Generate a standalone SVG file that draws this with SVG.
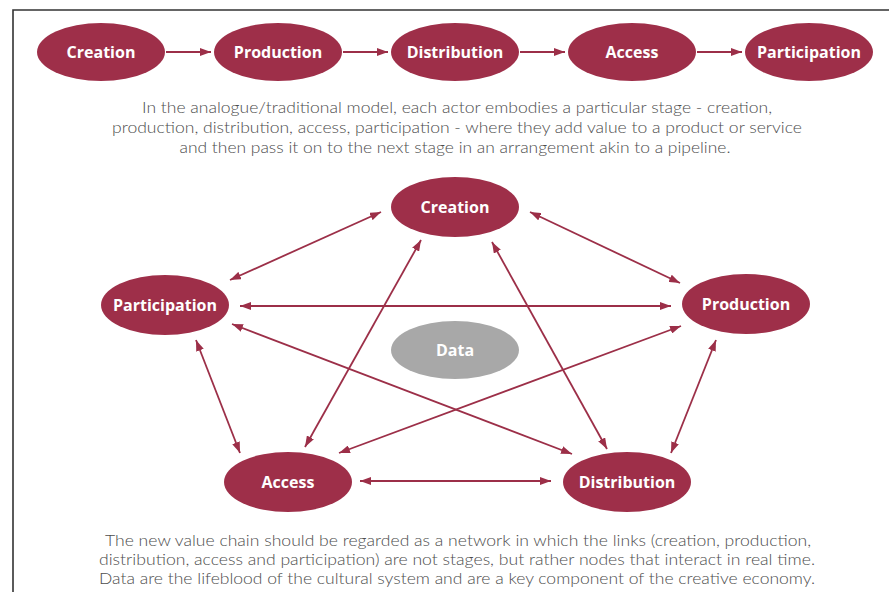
<svg xmlns="http://www.w3.org/2000/svg" width="889" height="592" viewBox="0 0 889 592">
<defs>
<marker id="ah" viewBox="0 0 11 8" refX="11" refY="4" markerWidth="11" markerHeight="8" markerUnits="userSpaceOnUse" orient="auto-start-reverse">
<path d="M0,0 L11,4 L0,8 z" fill="#9c2f48"/>
</marker>
<style>
.n{fill:#9e2f49}
.d{fill:#a8a8a8}
.lb{font-family:"Open Sans","Liberation Sans",sans-serif;font-weight:700;font-size:16px;fill:#fff;text-anchor:middle}
.c{stroke:#9c2f48;stroke-width:1.8;fill:none}
.cap{font-family:Lato,"Liberation Sans",sans-serif;font-weight:300;font-size:15px;fill:#4d4d4d;text-anchor:middle}
</style>
</defs>
<rect width="889" height="592" fill="#fff"/>
<path d="M13,592 V10 H889" fill="none" stroke="#333" stroke-width="1.6"/>

<g id="connectors">
<line class="c" x1="166" y1="52" x2="211" y2="52" marker-end="url(#ah)"/>
<line class="c" x1="343" y1="52" x2="388" y2="52" marker-end="url(#ah)"/>
<line class="c" x1="520" y1="52" x2="565" y2="52" marker-end="url(#ah)"/>
<line class="c" x1="697" y1="52" x2="742" y2="52" marker-end="url(#ah)"/>

<line class="c" x1="230" y1="280" x2="381" y2="212" marker-start="url(#ah)" marker-end="url(#ah)"/>
<line class="c" x1="530" y1="212" x2="680" y2="283" marker-start="url(#ah)" marker-end="url(#ah)"/>
<line class="c" x1="240" y1="306" x2="671" y2="306" marker-start="url(#ah)" marker-end="url(#ah)"/>
<line class="c" x1="232" y1="324" x2="572" y2="454" marker-start="url(#ah)" marker-end="url(#ah)"/>
<line class="c" x1="421" y1="240" x2="305" y2="447" marker-start="url(#ah)" marker-end="url(#ah)"/>
<line class="c" x1="492" y1="242" x2="607" y2="449" marker-start="url(#ah)" marker-end="url(#ah)"/>
<line class="c" x1="681" y1="326" x2="339" y2="453" marker-start="url(#ah)" marker-end="url(#ah)"/>
<line class="c" x1="196" y1="340" x2="240" y2="453" marker-start="url(#ah)" marker-end="url(#ah)"/>
<line class="c" x1="716" y1="340" x2="671" y2="453" marker-start="url(#ah)" marker-end="url(#ah)"/>
<line class="c" x1="360" y1="481" x2="551" y2="481" marker-start="url(#ah)" marker-end="url(#ah)"/>
</g>

<g id="top-creation"><ellipse class="n" cx="101" cy="52" rx="64" ry="29"/><text class="lb" x="101" y="57.5">Creation</text></g>
<g id="top-production"><ellipse class="n" cx="278" cy="52" rx="64" ry="29"/><text class="lb" x="278" y="57.5">Production</text></g>
<g id="top-distribution"><ellipse class="n" cx="455" cy="52" rx="64" ry="29"/><text class="lb" x="455" y="57.5">Distribution</text></g>
<g id="top-access"><ellipse class="n" cx="632" cy="52" rx="64" ry="29"/><text class="lb" x="632" y="57.5">Access</text></g>
<g id="top-participation"><ellipse class="n" cx="809" cy="52" rx="64" ry="29"/><text class="lb" x="809" y="57.5">Participation</text></g>

<text class="cap" x="457" y="113" textLength="630" lengthAdjust="spacingAndGlyphs">In the analogue/traditional model, each actor embodies a particular stage - creation,</text>
<text class="cap" x="457" y="133" textLength="690" lengthAdjust="spacingAndGlyphs">production, distribution, access, participation - where they add value to a product or service</text>
<text class="cap" x="455" y="153" textLength="551" lengthAdjust="spacingAndGlyphs">and then pass it on to the next stage in an arrangement akin to a pipeline.</text>

<g id="creation"><ellipse class="n" cx="455" cy="207" rx="64" ry="30"/><text class="lb" x="455" y="212.5">Creation</text></g>
<g id="participation"><ellipse class="n" cx="165" cy="305" rx="64" ry="30"/><text class="lb" x="165" y="310.5">Participation</text></g>
<g id="production"><ellipse class="n" cx="746" cy="304" rx="64" ry="30"/><text class="lb" x="746" y="309.5">Production</text></g>
<g id="data"><ellipse class="d" cx="455" cy="350" rx="64" ry="29"/><text class="lb" x="455" y="355.5">Data</text></g>
<g id="access"><ellipse class="n" cx="288" cy="482" rx="64" ry="30"/><text class="lb" x="288" y="487.5">Access</text></g>
<g id="distribution"><ellipse class="n" cx="627" cy="482" rx="64" ry="30"/><text class="lb" x="627" y="487.5">Distribution</text></g>

<text class="cap" x="458" y="546" textLength="706" lengthAdjust="spacingAndGlyphs">The new value chain should be regarded as a network in which the links (creation, production,</text>
<text class="cap" x="457" y="565" textLength="716" lengthAdjust="spacingAndGlyphs">distribution, access and participation) are not stages, but rather nodes that interact in real time.</text>
<text class="cap" x="457" y="584" textLength="716" lengthAdjust="spacingAndGlyphs">Data are the lifeblood of the cultural system and are a key component of the creative economy.</text>
</svg>
